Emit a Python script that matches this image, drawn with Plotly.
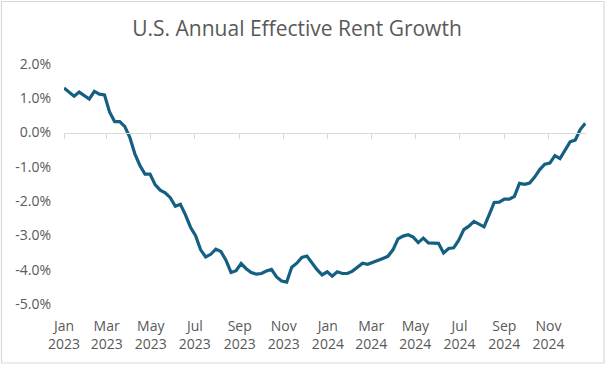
import pandas as pd
import plotly.graph_objects as go

# ---- data ----
start_date = "2023-01-01"
rent_growth_pct = [
    1.30, 1.18, 1.06, 1.18, 1.08, 0.98, 1.20, 1.12, 1.10, 0.60,
    0.32, 0.32, 0.18, -0.14, -0.62, -0.96, -1.21, -1.21, -1.52, -1.68,
    -1.76, -1.90, -2.15, -2.09, -2.40, -2.76, -3.01, -3.42, -3.63, -3.55,
    -3.40, -3.47, -3.72, -4.08, -4.03, -3.82, -3.97, -4.08, -4.13, -4.11,
    -4.04, -3.99, -4.21, -4.33, -4.36, -3.93, -3.81, -3.64, -3.60, -3.82,
    -4.00, -4.15, -4.06, -4.19, -4.06, -4.11, -4.11, -4.04, -3.93, -3.81,
    -3.84, -3.79, -3.74, -3.67, -3.61, -3.42, -3.10, -3.02, -2.98, -3.05,
    -3.21, -3.08, -3.22, -3.23, -3.23, -3.51, -3.38, -3.36, -3.14, -2.83,
    -2.73, -2.59, -2.68, -2.75, -2.40, -2.04, -2.03, -1.94, -1.94, -1.86,
    -1.48, -1.51, -1.47, -1.30, -1.08, -0.92, -0.89, -0.67, -0.76, -0.52,
    -0.27, -0.22, 0.09, 0.27,
]
dates = pd.date_range(start_date, periods=len(rent_growth_pct), freq="7D")

x_tick_dates = ["2023-01-01", "2023-03-01", "2023-05-01", "2023-07-01", "2023-09-01", "2023-11-01",
                "2024-01-01", "2024-03-01", "2024-05-01", "2024-07-01", "2024-09-01", "2024-11-01"]
x_tick_labels = ["Jan<br>2023", "Mar<br>2023", "May<br>2023", "Jul<br>2023", "Sep<br>2023", "Nov<br>2023",
                 "Jan<br>2024", "Mar<br>2024", "May<br>2024", "Jul<br>2024", "Sep<br>2024", "Nov<br>2024"]
y_tick_vals = [2, 1, 0, -1, -2, -3, -4, -5]
y_tick_labels = ["2.0%", "1.0%", "0.0%", "-1.0%", "-2.0%", "-3.0%", "-4.0%", "-5.0%"]
x_range = ["2023-01-01", "2024-12-23"]
y_range = [-5, 2]

FONT = "Open Sans"
GRAY = "#595959"
LINE_GRAY = "#d9d9d9"

fig = go.Figure()
fig.add_trace(go.Scatter(
    x=dates, y=rent_growth_pct, mode="lines",
    line=dict(color="#156082", width=3.2),
    showlegend=False,
))
# helper trace so the zero-line axis renders
fig.add_trace(go.Scatter(x=[dates[0]], y=[None], xaxis="x2", showlegend=False, hoverinfo="skip"))

zero_pos = (0 - y_range[0]) / (y_range[1] - y_range[0])

fig.update_layout(
    width=607, height=366,
    margin=dict(l=64, r=21, t=64, b=62),
    paper_bgcolor="white", plot_bgcolor="white",
    font=dict(family=FONT, color=GRAY, size=14),
    title=dict(text="U.S. Annual Effective Rent Growth", x=297 / 607, xref="container", xanchor="center",
               y=1 - 29 / 366, yanchor="middle", yref="container",
               font=dict(size=21, color=GRAY, family=FONT)),
    xaxis=dict(type="date", range=x_range, tickmode="array", tickvals=x_tick_dates,
               ticktext=x_tick_labels, showgrid=False, zeroline=False, showline=False,
               ticks="", tickfont=dict(size=14, color=GRAY), ticklabelstandoff=12),
    xaxis2=dict(type="date", range=x_range, overlaying="x", anchor="free", position=zero_pos,
                side="bottom", tickmode="array", tickvals=x_tick_dates, showticklabels=False,
                ticks="outside", ticklen=5, tickcolor=LINE_GRAY, tickwidth=1,
                showline=True, linecolor=LINE_GRAY, linewidth=1, showgrid=False, zeroline=False),
    yaxis=dict(range=y_range, tickmode="array", tickvals=y_tick_vals, ticktext=y_tick_labels,
               showgrid=False, zeroline=False, showline=False, ticks="",
               tickfont=dict(size=14, color=GRAY), ticklabelstandoff=12),
    shapes=[dict(type="rect", xref="paper", yref="paper",
                 x0=(1.5 - 64) / 522, x1=(604 - 64) / 522,
                 y0=(304 - 363) / 240, y1=(304 - 1.5) / 240,
                 line=dict(color=LINE_GRAY, width=1.2), layer="below")],
)

fig.write_html("out.html", config={"displayModeBar": False},
               post_script="document.body.style.margin='0';document.body.style.overflow='hidden';")
